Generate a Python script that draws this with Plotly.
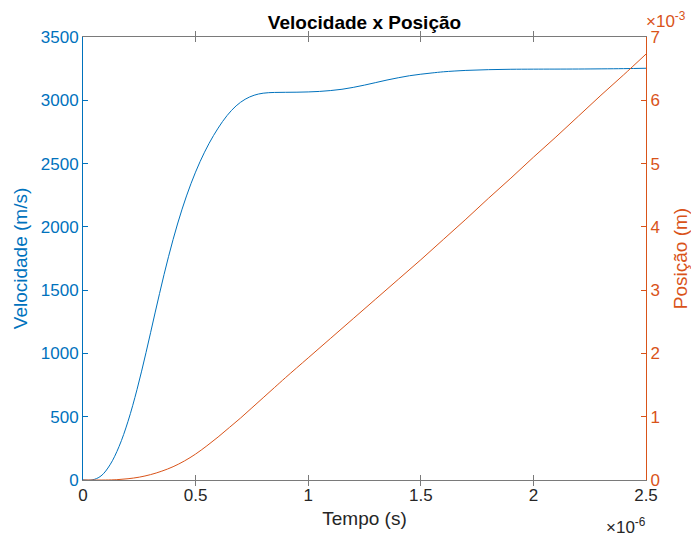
import plotly.graph_objects as go

# Time in microseconds (axis shows x10^-6 s)
t_vel = [0.0, 0.04, 0.08, 0.12, 0.16, 0.20, 0.24, 0.28, 0.32, 0.36, 0.40, 0.44, 0.48,
         0.52, 0.56, 0.60, 0.64, 0.68, 0.72, 0.76, 0.80, 0.85, 0.90, 0.95, 1.00, 1.05,
         1.10, 1.15, 1.20, 1.25, 1.30, 1.35, 1.40, 1.45, 1.50, 1.55, 1.60, 1.70, 1.80,
         1.90, 2.00, 2.20, 2.40, 2.50]
velocity = [0, 0, 32, 120, 264, 464, 716, 1008, 1320, 1624, 1900, 2140, 2344,
            2516, 2660, 2780, 2880, 2956, 3008, 3040, 3056, 3062, 3063, 3064, 3066, 3070,
            3077, 3087, 3102, 3120, 3140, 3160, 3178, 3194, 3206, 3216, 3225, 3236, 3242,
            3245, 3246, 3247, 3250, 3253]

t_pos = [0.0, 0.10, 0.15, 0.20, 0.25, 0.30, 0.35, 0.40, 0.45, 0.50, 0.55, 0.60, 0.65,
         0.70, 0.75, 0.80, 0.85, 0.90, 1.00, 1.10, 1.20, 1.30, 1.40, 1.50, 1.60, 1.70,
         1.80, 1.90, 2.00, 2.10, 2.20, 2.30, 2.40, 2.50]
position_mm = [0.0, 0.0, 0.005, 0.02, 0.045, 0.085, 0.14, 0.21, 0.30, 0.41, 0.54, 0.68, 0.83,
               0.98, 1.14, 1.30, 1.46, 1.62, 1.93, 2.24, 2.55, 2.86, 3.17, 3.48, 3.80, 4.12,
               4.45, 4.77, 5.10, 5.42, 5.75, 6.08, 6.40, 6.73]

x_ticks = [0, 0.5, 1, 1.5, 2, 2.5]
x_labels = ["0", "0.5", "1", "1.5", "2", "2.5"]
v_ticks = [0, 500, 1000, 1500, 2000, 2500, 3000, 3500]
p_ticks = [0, 1, 2, 3, 4, 5, 6, 7]

BLUE = "#0072BD"
ORANGE = "#D95319"
GRAY = "#262626"
LINEGRAY = "#7a7a7a"
FONT = "Liberation Sans, Arial, Helvetica, sans-serif"

fig = go.Figure()
fig.add_trace(go.Scatter(x=t_vel, y=velocity, mode="lines",
                         line=dict(color=BLUE, width=1, shape="spline", smoothing=1),
                         showlegend=False, hoverinfo="skip"))
fig.add_trace(go.Scatter(x=t_pos, y=position_mm, mode="lines",
                         line=dict(color=ORANGE, width=1, shape="spline", smoothing=1),
                         yaxis="y2", showlegend=False, hoverinfo="skip"))

fig.update_layout(
    width=691, height=537,
    margin=dict(l=83, r=45, t=37, b=57, autoexpand=False),
    plot_bgcolor="white", paper_bgcolor="white",
    font=dict(family=FONT, size=17, color=GRAY),
    title=dict(text="<b>Velocidade x Posição</b>", x=0.5, xref="paper", y=1, yref="paper",
               yanchor="bottom", pad=dict(b=8), font=dict(size=19, color="black")),
    xaxis=dict(range=[0, 2.5], tickvals=x_ticks, ticktext=x_labels, ticks="inside", ticklen=5,
               tickcolor=LINEGRAY, showline=True, linecolor=LINEGRAY, linewidth=1, mirror="allticks",
               showgrid=False, zeroline=False, tickfont=dict(size=17, color=GRAY),
               title=dict(text="Tempo (s)", font=dict(size=19, color=GRAY), standoff=7)),
    yaxis=dict(range=[0, 3500], tickvals=v_ticks, ticks="inside", ticklen=5, tickcolor=BLUE,
               showline=True, linecolor=BLUE, linewidth=1, showgrid=False, zeroline=False,
               tickfont=dict(size=17, color=BLUE),
               title=dict(text="Velocidade (m/s)", font=dict(size=19, color=BLUE), standoff=8)),
    yaxis2=dict(range=[0, 7], tickvals=p_ticks, overlaying="y", side="right", ticks="inside",
                ticklen=5, tickcolor=ORANGE, showline=True, linecolor=ORANGE, linewidth=1,
                showgrid=False, zeroline=False, tickfont=dict(size=17, color=ORANGE),
                title=dict(text="Posição (m)", font=dict(size=19, color=ORANGE), standoff=14)),
)

fig.add_annotation(text="×10<sup>-3</sup>", xref="paper", yref="paper", x=1, y=1, xanchor="left",
                   yanchor="bottom", yshift=4, xshift=-2, showarrow=False,
                   font=dict(size=17, color=ORANGE, family=FONT))
fig.add_annotation(text="×10<sup>-6</sup>", xref="paper", yref="paper", x=1, y=0, xanchor="right",
                   yanchor="top", yshift=-33, xshift=2, showarrow=False,
                   font=dict(size=17, color=GRAY, family=FONT))

fig.write_html("out.html")
